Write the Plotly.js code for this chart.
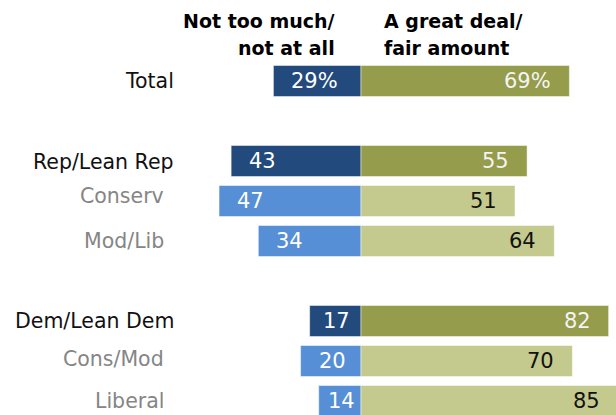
<!DOCTYPE html>
<html>
<head>
<meta charset="utf-8">
<script src="https://cdn.plot.ly/plotly-3.0.1.min.js"></script>
<style>html,body{margin:0;padding:0;background:#fff;}#chart{width:616px;height:415px;}</style>
</head>
<body>
<div id="chart"></div>
<script>
// Data
const categories = ['Total', 'Rep/Lean Rep', 'Conserv', 'Mod/Lib', 'Dem/Lean Dem', 'Cons/Mod', 'Liberal'];
const isMain = [true, true, false, false, true, false, false];
const notMuch = [29, 43, 47, 34, 17, 20, 14];      // Not too much/not at all
const greatDeal = [69, 55, 51, 64, 82, 70, 85];    // A great deal/fair amount
const leftLabels = ['29%', '43', '47', '34', '17', '20', '14'];
const rightLabels = ['69%', '55', '51', '64', '82', '70', '85'];
const headerLeft = ['Not too much/', 'not at all'];
const headerRight = ['A great deal/', 'fair amount'];

// Styles
const darkBlue = '#234a7c', lightBlue = '#568fd6';
const darkOlive = '#959c4b', lightOlive = '#c4ca8d';
const order = ['Total', ' ', 'Rep/Lean Rep', 'Conserv', 'Mod/Lib', '  ', 'Dem/Lean Dem', 'Cons/Mod', 'Liberal'];
const pxPerUnit = 3.02, centerPx = 361, W = 616, H = 415;
const xRange = [-centerPx / pxPerUnit, (W - centerPx) / pxPerUnit];

const traces = [
  {
    type: 'bar', orientation: 'h', y: categories, x: notMuch.map(v => -v),
    width: 0.775,
    marker: {color: isMain.map(m => m ? darkBlue : lightBlue), line: {width: 0.8, color: 'rgba(255,255,255,0.6)'}},
    hoverinfo: 'skip'
  },
  {
    type: 'bar', orientation: 'h', y: categories, x: greatDeal,
    width: 0.775,
    marker: {color: isMain.map(m => m ? darkOlive : lightOlive), line: {width: 0.8, color: 'rgba(255,255,255,0.6)'}},
    hoverinfo: 'skip'
  }
];

const font = 'DejaVu Sans, Liberation Sans, Arial, sans-serif';
const annotations = [];
categories.forEach((c, i) => {
  let ys = 0;
  if (c === 'Conserv') ys = 5;
  if (c === 'Cons/Mod') ys = 2;
  if (c === 'Rep/Lean Rep') ys = -1;
  // Row labels
  annotations.push({
    xref: 'paper', yref: 'y', x: (isMain[i] ? 176 : 166) / W, y: c,
    xanchor: 'right', yanchor: 'middle', yshift: ys, showarrow: false,
    text: c, font: {family: font, size: 20.5, color: isMain[i] ? '#111111' : '#858585'}
  });
  // Left value labels
  const w = notMuch[i] * pxPerUnit;
  const sh = Math.min(16, (w - 28) / 2);
  annotations.push({
    xref: 'x', yref: 'y', x: -notMuch[i], y: c, xanchor: 'left', yanchor: 'middle',
    xshift: sh, showarrow: false, text: leftLabels[i],
    font: {family: font, size: 21, color: '#ffffff'}
  });
  // Right value labels (bar may run past the plot edge)
  const xr = Math.min(greatDeal[i], xRange[1]);
  annotations.push({
    xref: 'x', yref: 'y', x: xr, y: c, xanchor: 'right', yanchor: 'middle',
    xshift: -16 + (greatDeal[i] - xr) * pxPerUnit, showarrow: false, text: rightLabels[i],
    font: {family: font, size: 21, color: isMain[i] ? '#f4f4f4' : '#111111'}
  });
});
// Column headers
const hdrFont = {family: font, size: 19, color: '#000000'};
[21, 48].forEach((py, k) => {
  annotations.push({
    xref: 'paper', yref: 'paper', x: 337 / W, y: 1 - py / H, xanchor: 'right', yanchor: 'middle',
    showarrow: false, text: '<b>' + headerLeft[k] + '</b>', font: hdrFont
  });
  annotations.push({
    xref: 'paper', yref: 'paper', x: 382 / W, y: 1 - py / H, xanchor: 'left', yanchor: 'middle',
    showarrow: false, text: '<b>' + headerRight[k] + '</b>', font: hdrFont
  });
});

const layout = {
  width: W, height: H,
  margin: {l: 0, r: 0, t: 0, b: 0, pad: 0},
  paper_bgcolor: '#ffffff', plot_bgcolor: '#ffffff',
  barmode: 'relative',
  showlegend: false,
  xaxis: {range: xRange, visible: false, fixedrange: true},
  yaxis: {type: 'category', categoryorder: 'array', categoryarray: order,
          range: [(H - 81) / 40, -81 / 40], visible: false, fixedrange: true},
  annotations: annotations
};

Plotly.newPlot('chart', traces, layout, {staticPlot: true, displayModeBar: false});
</script>
</body>
</html>
